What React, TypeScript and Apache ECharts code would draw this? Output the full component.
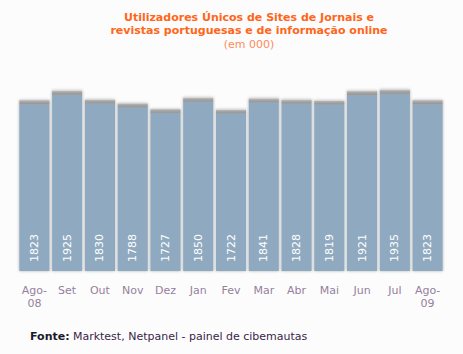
import React, { useEffect, useRef } from "react";
import * as echarts from "echarts";

const categories = ["Ago-\n08", "Set", "Out", "Nov", "Dez", "Jan", "Fev", "Mar", "Abr", "Mai", "Jun", "Jul", "Ago-\n09"];
const values = [1823, 1925, 1830, 1788, 1727, 1850, 1722, 1841, 1828, 1819, 1921, 1935, 1823];
const titleText = "Utilizadores Únicos de Sites de Jornais e\nrevistas portuguesas e de informação online";
const subText = "(em 000)";

export default function App() {
  const ref = useRef<HTMLDivElement>(null);
  useEffect(() => {
    if (!ref.current) return;
    const chart = echarts.init(ref.current, null, { renderer: "svg" });
    const font = "DejaVu Sans, Verdana, sans-serif";
    chart.setOption({
      animation: false,
      backgroundColor: "#fcfcfc",
      title: {
        text: titleText,
        subtext: subText,
        left: 244,
        textAlign: "center",
        top: 6,
        itemGap: 1,
        textStyle: { fontFamily: font, fontSize: 11, fontWeight: "bold", color: "#ff661a", lineHeight: 13 },
        subtextStyle: { fontFamily: font, fontSize: 11, color: "#ff8a5c", lineHeight: 13 },
      },
      grid: { left: 18, right: 19, top: 60, bottom: 83 },
      xAxis: {
        type: "category",
        data: categories,
        axisLine: { show: false },
        axisTick: { show: false },
        axisLabel: { fontFamily: font, fontSize: 11, color: "#967f9c", margin: 13, lineHeight: 13, interval: 0 },
      },
      yAxis: { type: "value", min: 0, max: 2250, show: false, splitLine: { show: false } },
      series: [
        {
          type: "bar",
          data: values,
          barCategoryGap: "8%",
          itemStyle: {
            color: {
              type: "linear", x: 0, y: 0, x2: 0, y2: 1,
              colorStops: [
                { offset: 0, color: "#cccccc" },
                { offset: 0.008, color: "#aaaaaa" },
                { offset: 0.02, color: "#999999" },
                { offset: 0.026, color: "#9aa6b2" },
                { offset: 0.03, color: "#8faac0" },
                { offset: 1, color: "#8faac0" },
              ],
            },
            shadowColor: "rgba(0,0,0,0.3)",
            shadowBlur: 3,
          },
          label: {
            show: true,
            position: "insideBottom",
            rotate: 90,
            align: "left",
            verticalAlign: "middle",
            distance: 9,
            color: "#ffffff",
            fontFamily: font,
            fontSize: 11,
          },
        },
      ],
      graphic: [
        {
          type: "text",
          left: 30,
          top: 330,
          style: {
            text: "{b|Fonte:} {n|Marktest, Netpanel - painel de cibemautas}",
            rich: {
              b: { fontFamily: font, fontSize: 11, fontWeight: "bold", fill: "#1a1a2e" },
              n: { fontFamily: font, fontSize: 11, fill: "#3a1f4a" },
            },
          },
        },
      ],
    });
    return () => chart.dispose();
  }, []);
  return <div ref={ref} style={{ position: "fixed", left: 0, top: 0, width: 463, height: 354 }} />;
}
